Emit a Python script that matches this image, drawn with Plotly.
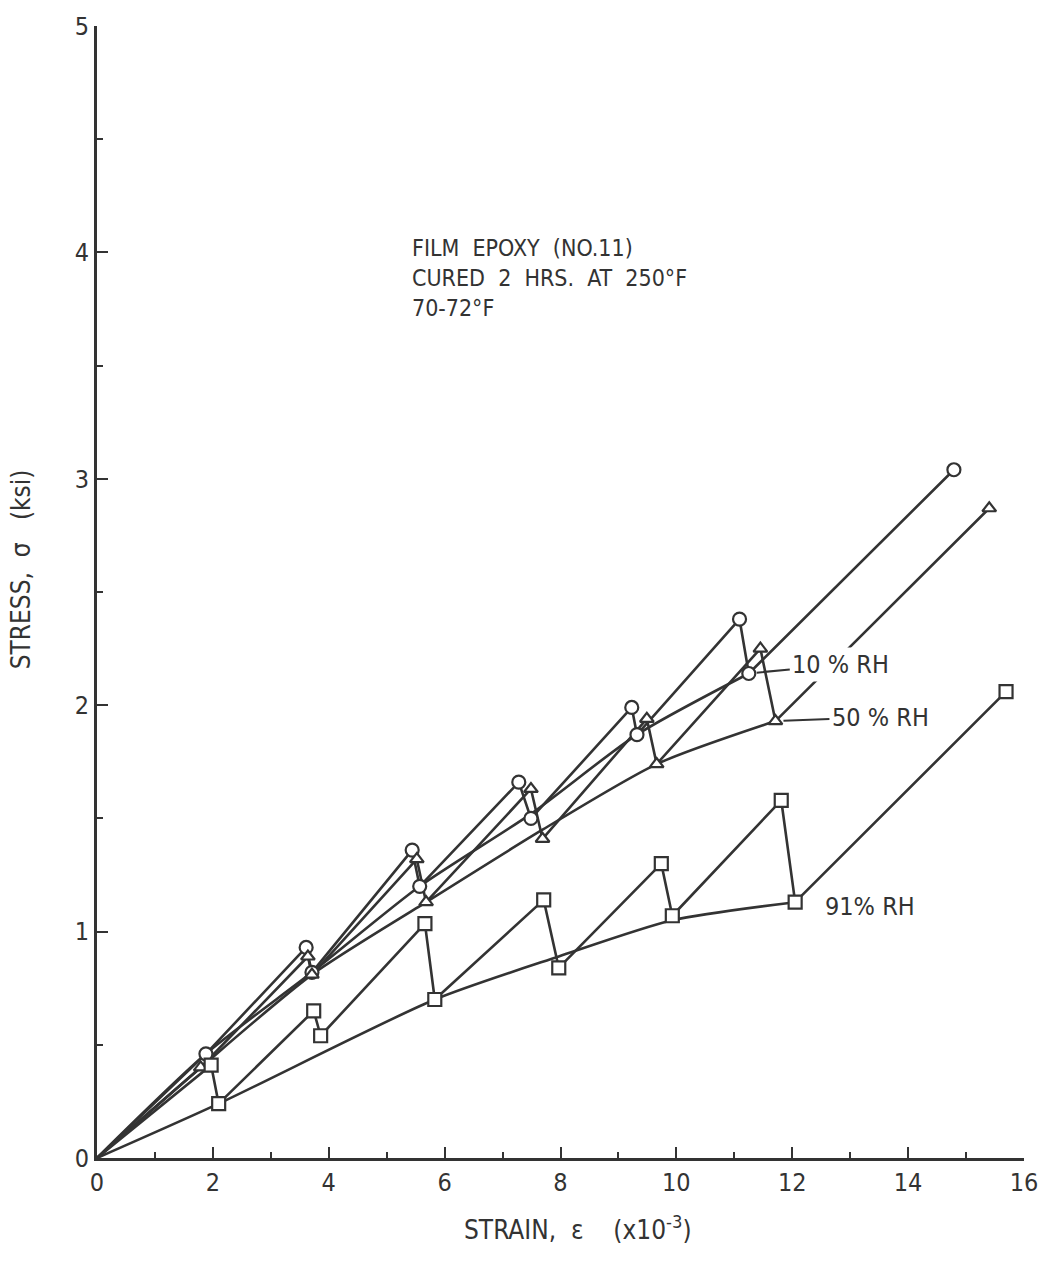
import plotly.graph_objects as go

# ---- data: strain (x10^-3) vs stress (ksi), film epoxy No. 11 ----
# stepwise load / relaxation paths (peak -> relaxed point -> next peak ...)
rh10_strain = [0, 1.88, 3.61, 3.71, 5.44, 5.57, 7.28, 7.49, 9.23, 9.32, 11.09, 11.25, 14.79]
rh10_stress = [0, 0.46, 0.93, 0.82, 1.36, 1.20, 1.66, 1.50, 1.99, 1.87, 2.38, 2.14, 3.04]

rh50_strain = [0, 1.79, 3.64, 3.71, 5.52, 5.68, 7.49, 7.69, 9.49, 9.66, 11.45, 11.71, 15.40]
rh50_stress = [0, 0.40, 0.89, 0.81, 1.32, 1.13, 1.63, 1.41, 1.94, 1.74, 2.25, 1.93, 2.87]

rh91_strain = [0, 1.97, 2.10, 3.74, 3.86, 5.66, 5.83, 7.71, 7.97, 9.74, 9.93, 11.81, 12.05, 15.69]
rh91_stress = [0, 0.41, 0.24, 0.65, 0.54, 1.035, 0.70, 1.14, 0.84, 1.30, 1.07, 1.58, 1.13, 2.06]

# smooth isochronous curves through the relaxed points
curve10_strain = [0, 1.88, 3.71, 5.57, 7.49, 9.32, 11.25]
curve10_stress = [0, 0.46, 0.82, 1.20, 1.52, 1.87, 2.14]
curve50_strain = [0, 1.79, 3.71, 5.68, 7.69, 9.66, 11.71]
curve50_stress = [0, 0.40, 0.81, 1.13, 1.45, 1.74, 1.93]
curve91_strain = [0, 2.10, 5.83, 7.97, 9.93, 12.05]
curve91_stress = [0, 0.24, 0.70, 0.89, 1.05, 1.13]

x_ticks = [0, 2, 4, 6, 8, 10, 12, 14, 16]
y_ticks = [0, 1, 2, 3, 4, 5]

INK = "#333333"
FONT = "DejaVu Sans Condensed, Liberation Sans Narrow, DejaVu Sans, sans-serif"
LW = 2.6
NB = "\u00a0"

fig = go.Figure()

# curves first, then the stepped paths, markers on top (white-filled)
for xs, ys in [(curve10_strain, curve10_stress),
               (curve50_strain, curve50_stress),
               (curve91_strain, curve91_stress)]:
    fig.add_trace(go.Scatter(x=xs, y=ys, mode="lines",
                             line=dict(color=INK, width=LW, shape="spline", smoothing=0.7),
                             hoverinfo="skip", showlegend=False))

series = [
    (rh10_strain, rh10_stress, "circle", 13, "10% RH"),
    (rh50_strain, rh50_stress, "triangle-up", 12, "50% RH"),
    (rh91_strain, rh91_stress, "square", 13, "91% RH"),
]
for xs, ys, sym, sz, name in series:
    fig.add_trace(go.Scatter(x=xs, y=ys, mode="lines", name=name,
                             line=dict(color=INK, width=LW),
                             showlegend=False))
for xs, ys, sym, sz, name in series:
    fig.add_trace(go.Scatter(x=xs[1:], y=ys[1:], mode="markers", name=name,
                             marker=dict(symbol=sym, size=sz,
                                         color="white", line=dict(color=INK, width=2.2)),
                             showlegend=False))

ann = []
# header text block
for txt, yy in [(f"FILM{NB} EPOXY{NB} (NO.11)", 4.02),
                (f"CURED{NB} 2{NB} HRS.{NB} AT{NB} 250°F", 3.885),
                ("70-72°F", 3.755)]:
    ann.append(dict(x=5.40, y=yy, xref="x", yref="y", text=txt, showarrow=False,
                    xanchor="left", yanchor="middle",
                    font=dict(family=FONT, size=23, color=INK)))

# curve labels with short leader lines
ann.append(dict(x=11.25, y=2.14, xref="x", yref="y", text=f"10{NB}%{NB}RH",
                showarrow=True, arrowhead=0, arrowwidth=2.2, arrowcolor=INK,
                ax=92, ay=-9, standoff=8, bgcolor="white", borderpad=2,
                font=dict(family=FONT, size=25, color=INK)))
ann.append(dict(x=11.71, y=1.93, xref="x", yref="y", text=f"50{NB}%{NB}RH",
                showarrow=True, arrowhead=0, arrowwidth=2.2, arrowcolor=INK,
                ax=105, ay=-4, standoff=8, bgcolor="white", borderpad=2,
                font=dict(family=FONT, size=25, color=INK)))
ann.append(dict(x=13.35, y=1.11, xref="x", yref="y", text=f"91%{NB}RH",
                showarrow=False, font=dict(family=FONT, size=25, color=INK)))

# axis titles
ann.append(dict(x=0.519, y=-0.062, xref="paper", yref="paper",
                text=f"STRAIN,{NB}{NB}ε{NB}{NB}{NB}{NB}(x10<sup>-3</sup>)", showarrow=False,
                xanchor="center", yanchor="middle",
                font=dict(family=FONT, size=26, color=INK)))
ann.append(dict(x=-0.082, y=0.52, xref="paper", yref="paper",
                text=f"STRESS,{NB}{NB}σ{NB}{NB}{NB}(ksi)", showarrow=False, textangle=-90,
                xanchor="center", yanchor="middle",
                font=dict(family=FONT, size=26, color=INK)))

fig.update_layout(
    width=1050, height=1275,
    margin=dict(l=97, r=17, t=22, b=117),
    paper_bgcolor="white", plot_bgcolor="white",
    annotations=ann,
    xaxis=dict(range=[0, 16], tickvals=x_ticks, ticktext=[str(v) for v in x_ticks],
               ticks="inside", ticklen=11, tickwidth=2.2, tickcolor=INK,
               minor=dict(dtick=1, tick0=0, ticks="inside", ticklen=6, tickwidth=2.2, tickcolor=INK),
               showline=True, linecolor=INK, linewidth=2.8, showgrid=False, zeroline=False,
               tickfont=dict(family=FONT, size=25, color=INK)),
    yaxis=dict(range=[0, 5], tickvals=y_ticks, ticktext=[str(v) for v in y_ticks],
               ticks="inside", ticklen=11, tickwidth=2.2, tickcolor=INK,
               minor=dict(dtick=0.5, tick0=0, ticks="inside", ticklen=6, tickwidth=2.2, tickcolor=INK),
               showline=True, linecolor=INK, linewidth=2.8, showgrid=False, zeroline=False,
               tickfont=dict(family=FONT, size=25, color=INK)),
)

fig.write_html("out.html")
